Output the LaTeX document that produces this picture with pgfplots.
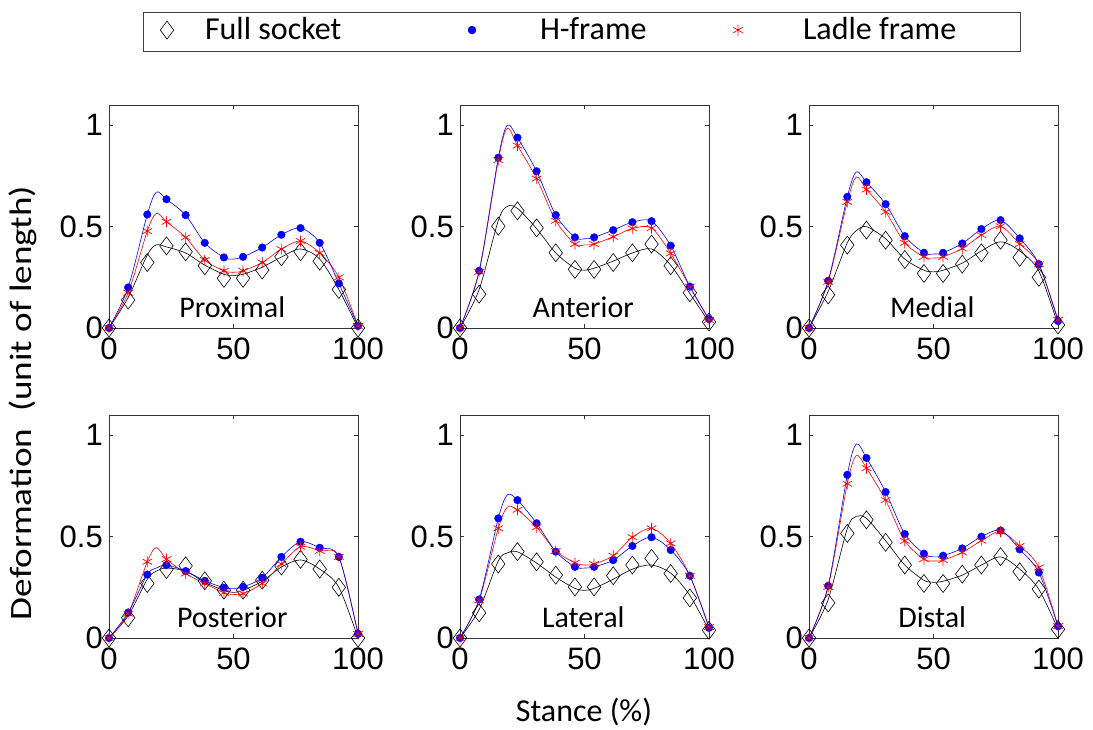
\documentclass[border=0pt]{standalone}
\usepackage{fontspec}
\setmainfont{Carlito}
\setsansfont{Liberation Sans}
\usepackage{pgfplots}
\usepackage{pgfplotstable}
\pgfplotsset{compat=1.18}

% marker values (x, H-frame b, Ladle r, Full socket k)
\pgfplotstableread{
x b r k
0 0 0 0
7.69 0.20 0.174 0.138
15.38 0.56 0.478 0.323
23.08 0.635 0.524 0.405
30.77 0.557 0.447 0.376
38.46 0.42 0.335 0.307
46.15 0.348 0.282 0.245
53.85 0.351 0.282 0.245
61.54 0.397 0.323 0.286
69.23 0.46 0.389 0.351
76.92 0.493 0.429 0.376
84.62 0.42 0.37 0.33
92.31 0.22 0.25 0.19
100 0.01 0.01 0
}\proxM
\pgfplotstableread{
x b r k
0 0 0 0
7.69 0.20 0.174 0.15
15.38 0.56 0.478 0.36
19 0.67 0.565 0.41
23.08 0.635 0.524 0.40
30.77 0.557 0.447 0.37
38.46 0.42 0.335 0.31
46.15 0.348 0.282 0.265
50 0.34 0.275 0.26
53.85 0.351 0.282 0.265
61.54 0.397 0.323 0.30
69.23 0.46 0.389 0.35
76.92 0.493 0.429 0.39
84.62 0.42 0.37 0.34
92.31 0.22 0.25 0.19
100 0.01 0.01 0
}\proxL

\pgfplotstableread{
x b r k
0 0 0 0
7.69 0.282 0.277 0.167
15.38 0.84 0.828 0.502
23.08 0.939 0.90 0.578
30.77 0.773 0.737 0.494
38.46 0.557 0.529 0.371
46.15 0.447 0.414 0.289
53.85 0.447 0.414 0.289
61.54 0.483 0.45 0.323
69.23 0.522 0.491 0.371
76.92 0.527 0.493 0.414
84.62 0.406 0.368 0.307
92.31 0.204 0.204 0.174
100 0.044 0.04 0.03
}\antM
\pgfplotstableread{
x b r k
0 0 0 0
7.69 0.282 0.277 0.19
15.38 0.84 0.828 0.53
19 1.0 0.985 0.60
23.08 0.939 0.90 0.59
30.77 0.773 0.737 0.49
38.46 0.557 0.529 0.37
46.15 0.447 0.414 0.295
50 0.44 0.41 0.285
53.85 0.447 0.414 0.295
61.54 0.483 0.45 0.33
69.23 0.522 0.491 0.37
76.92 0.527 0.493 0.39
84.62 0.406 0.368 0.31
92.31 0.204 0.204 0.17
100 0.044 0.04 0.03
}\antL

\pgfplotstableread{
x b r k
0 0 0 0
7.69 0.233 0.228 0.163
15.38 0.647 0.622 0.409
23.08 0.719 0.683 0.483
30.77 0.611 0.573 0.433
38.46 0.453 0.42 0.338
46.15 0.371 0.351 0.269
53.85 0.371 0.351 0.269
61.54 0.417 0.392 0.315
69.23 0.488 0.458 0.371
76.92 0.532 0.502 0.433
84.62 0.442 0.414 0.348
92.31 0.315 0.314 0.25
100 0.034 0.04 0.015
}\medM
\pgfplotstableread{
x b r k
0 0 0 0
7.69 0.233 0.228 0.18
15.38 0.647 0.622 0.42
19 0.77 0.745 0.48
23.08 0.719 0.683 0.50
30.77 0.611 0.573 0.44
38.46 0.453 0.42 0.34
46.15 0.371 0.351 0.285
50 0.365 0.345 0.277
53.85 0.371 0.351 0.285
61.54 0.417 0.392 0.32
69.23 0.488 0.458 0.38
76.92 0.532 0.502 0.425
84.62 0.442 0.414 0.38
92.31 0.315 0.314 0.28
100 0.034 0.04 0.015
}\medL

\pgfplotstableread{
x b r k
0 0 0 0
7.69 0.125 0.12 0.10
15.38 0.313 0.376 0.269
23.08 0.36 0.389 0.338
30.77 0.33 0.318 0.356
38.46 0.282 0.269 0.282
46.15 0.248 0.223 0.236
53.85 0.252 0.219 0.236
61.54 0.297 0.269 0.285
69.23 0.40 0.365 0.355
76.92 0.475 0.45 0.388
84.62 0.445 0.43 0.34
92.31 0.40 0.40 0.25
100 0.02 0.02 0
}\posM
\pgfplotstableread{
x b r k
0 0 0 0
7.69 0.125 0.12 0.11
15.38 0.313 0.376 0.29
19 0.345 0.446 0.33
23.08 0.36 0.389 0.345
30.77 0.33 0.318 0.33
38.46 0.282 0.269 0.275
46.15 0.248 0.223 0.235
50 0.245 0.215 0.225
53.85 0.252 0.219 0.235
61.54 0.297 0.269 0.28
69.23 0.40 0.365 0.35
76.92 0.475 0.45 0.385
84.62 0.445 0.43 0.34
92.31 0.40 0.40 0.25
100 0.02 0.02 0
}\posL

\pgfplotstableread{
x b r k
0 0 0 0
7.69 0.19 0.186 0.124
15.38 0.59 0.541 0.365
23.08 0.68 0.632 0.426
30.77 0.566 0.546 0.376
38.46 0.426 0.429 0.31
46.15 0.351 0.371 0.252
53.85 0.351 0.365 0.252
61.54 0.384 0.406 0.307
69.23 0.454 0.497 0.36
76.92 0.497 0.541 0.393
84.62 0.434 0.467 0.318
92.31 0.307 0.307 0.198
100 0.05 0.054 0.038
}\latM
\pgfplotstableread{
x b r k
0 0 0 0
7.69 0.19 0.186 0.14
15.38 0.59 0.541 0.38
19 0.706 0.645 0.42
23.08 0.68 0.632 0.425
30.77 0.566 0.546 0.37
38.46 0.426 0.429 0.30
46.15 0.351 0.371 0.245
50 0.345 0.36 0.235
53.85 0.351 0.365 0.245
61.54 0.384 0.406 0.29
69.23 0.454 0.497 0.34
76.92 0.497 0.541 0.36
84.62 0.434 0.467 0.32
92.31 0.307 0.307 0.21
100 0.05 0.054 0.038
}\latL

\pgfplotstableread{
x b r k
0 0 0 0
7.69 0.257 0.252 0.173
15.38 0.805 0.761 0.516
23.08 0.888 0.838 0.583
30.77 0.72 0.68 0.472
38.46 0.513 0.479 0.36
46.15 0.416 0.389 0.269
53.85 0.406 0.384 0.269
61.54 0.442 0.422 0.315
69.23 0.50 0.48 0.36
76.92 0.53 0.525 0.401
84.62 0.437 0.454 0.327
92.31 0.323 0.348 0.241
100 0.058 0.058 0.043
}\disM
\pgfplotstableread{
x b r k
0 0 0 0
7.69 0.257 0.252 0.19
15.38 0.805 0.761 0.54
19 0.957 0.90 0.60
23.08 0.888 0.838 0.59
30.77 0.72 0.68 0.48
38.46 0.513 0.479 0.36
46.15 0.416 0.389 0.285
50 0.40 0.38 0.275
53.85 0.406 0.384 0.28
61.54 0.442 0.422 0.31
69.23 0.50 0.48 0.36
76.92 0.53 0.525 0.40
84.62 0.437 0.454 0.34
92.31 0.323 0.348 0.24
100 0.058 0.058 0.043
}\disL

\newcommand\tickfnt{\sffamily\fontsize{31}{31}\selectfont}

\pgfplotsset{
  panel/.style={
    width=249pt, height=223pt, scale only axis, anchor=south west,
    xmin=0, xmax=100, ymin=0, ymax=1.1,
    xtick={0,50,100}, xticklabels={0,50,100},
    ytick={0,0.5,1}, yticklabels={0,0.5,1},
    tick align=inside, major tick length=4pt,
    tick style={black!80, line width=0.6pt},
    axis line style={black!80, line width=0.9pt},
    xticklabel style={font=\tickfnt, inner sep=0pt, yshift=-10pt},
    yticklabel style={font=\tickfnt, inner sep=0pt, xshift=-6pt},
    /pgf/number format/assume math mode=true,
    clip=false,
    legend image code/.code={%
      \path[draw=none, fill=none] (-15.5pt,-10pt) rectangle (17pt,10pt);
      \draw[##1] plot coordinates {(8.5pt,2pt)};},
  },
  kline/.style={black, line width=0.6pt, smooth, no marks, forget plot},
  rline/.style={red, line width=0.6pt, smooth, no marks, forget plot},
  bline/.style={blue, line width=0.6pt, smooth, no marks, forget plot},
  kmark/.style={only marks, black, mark=diamond, mark size=9pt, mark options={line width=0.6pt}},
  bmark/.style={only marks, blue, mark=*, mark size=3.8pt},
  rmark/.style={only marks, red, mark=asterisk, mark size=5.5pt, mark options={line width=0.7pt}},
}

\newcommand\panel[6]{%
  \begin{axis}[panel, at={(#1pt,#2pt)}, #6]
    \addplot[kline] table[x=x,y=k]{#4};
    \addplot[rline] table[x=x,y=r]{#4};
    \addplot[bline] table[x=x,y=b]{#4};
    \addplot[kmark] table[x=x,y=k]{#3};
    \addplot[bmark] table[x=x,y=b]{#3};
    \addplot[rmark] table[x=x,y=r]{#3};
    \node[anchor=base, font=\fontsize{30}{30}\selectfont] at (axis cs:49.5,0.054) {#5};
  \end{axis}}

\begin{document}
\begin{tikzpicture}
\useasboundingbox (0pt,0pt) rectangle (1093pt,729pt);
\panel{109}{401}{\proxM}{\proxL}{Proximal}{}
\panel{460}{401}{\antM}{\antL}{Anterior}{
  legend columns=3, legend cell align=left,
  legend style={at={(0.488,1.327)}, anchor=center, draw=black!75, line width=0.8pt,
    fill=white, inner xsep=0pt, inner ysep=5pt,
    font=\fontsize{32}{32}\selectfont,
    nodes={inner sep=0pt, text height=22pt, text depth=7pt},
    /tikz/every even column/.style={column sep=0pt}},
  legend entries={\makebox[272.5pt][l]{\hspace{29.5pt}Full socket},
    \makebox[233.5pt][l]{\hspace{59.5pt}H-frame},
    \makebox[273.5pt][l]{\hspace{56.5pt}Ladle frame}}}
\panel{809}{401}{\medM}{\medL}{Medial}{}
\panel{109}{91}{\posM}{\posL}{Posterior}{}
\panel{460}{91}{\latM}{\latL}{Lateral}{}
\panel{809}{91}{\disM}{\disL}{Distal}{}
\node[rotate=90, xscale=1.2, font=\fontsize{31}{31}\selectfont] at (23pt,326pt) {Deformation\ \ (unit of length)};
\node[font=\fontsize{32}{32}\selectfont] at (584pt,17pt) {Stance (\%)};
\end{tikzpicture}
\end{document}
